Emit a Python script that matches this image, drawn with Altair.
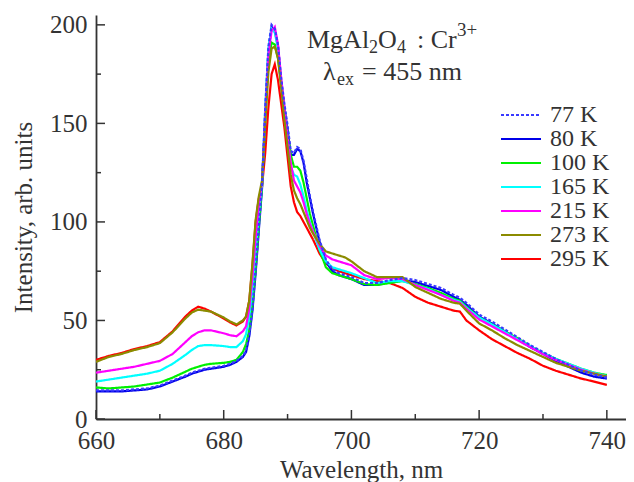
import altair as alt
import pandas as pd

# ---------------- data ----------------
WAVELENGTH = [660, 662, 664, 666, 668, 670, 672, 674, 675, 676, 677, 678,
              680, 681, 682, 683, 683.5, 684, 684.5, 685, 685.5, 686,
              686.5, 687, 687.5, 688, 688.5, 689, 689.5, 690, 690.5, 691,
              691.5, 692, 692.5, 693, 693.5, 694, 695, 696, 697, 698,
              699, 700, 702, 704, 706, 708, 710, 712, 714, 716,
              717, 718, 720, 722, 724, 726, 728, 730, 732, 734,
              736, 738, 740]

I_77K = [14.5, 14.5, 14.5, 15, 15.5, 17, 19.5, 22, 23.5, 24.5, 25.5, 26,
         27, 28, 29.5, 32, 34.5, 43, 56, 76, 98, 119,
         157, 189, 200, 198, 190, 173, 160, 149, 136, 135,
         138, 137, 131, 122, 113, 105, 91, 81, 76, 74,
         73, 72, 69, 69, 70.5, 71.5, 70.5, 68.5, 66.5, 63,
         61.5, 59, 53, 49.5, 45.5, 41.5, 37.5, 34, 30.5, 27.5,
         24.5, 22.5, 21]
I_80K = [14, 14, 14, 14.5, 15, 16.5, 19, 21.5, 23, 24, 25, 25.5,
         26.5, 27.5, 29, 31.5, 34, 42, 55, 74, 96, 117,
         155, 187, 199, 197, 189, 171, 158, 147, 134, 134,
         137, 136, 130, 120, 112, 104, 90, 80, 75, 73,
         72, 71, 68, 68, 69.5, 70.5, 69.5, 67.5, 65.5, 62,
         60.5, 58, 52, 48.5, 44.5, 40.5, 36.5, 33, 29.5, 26.5,
         23.5, 21.5, 20.5]
I_100K = [16, 15.5, 16, 16.5, 17.5, 18.5, 21, 24, 25.5, 26.5, 27.5, 28,
          28.5, 29, 30, 34, 38, 45, 58, 76, 98, 118,
          152, 182, 191, 190, 183, 170, 157, 145, 134, 128,
          128, 126, 120, 112, 104, 98, 86, 77, 74, 73,
          72, 71, 68.5, 68, 69, 70, 68.5, 66.5, 64, 61,
          60, 57, 51.5, 48, 44.5, 41, 37, 33.5, 30.5, 28,
          25.5, 23.5, 22.3]
I_165K = [19, 20, 21, 22, 23, 24.5, 28, 32.5, 35, 37, 37.5, 37.5,
          37, 36.5, 36.5, 39.5, 43, 52, 65, 85, 104, 120,
          158, 188, 198, 196, 188, 170, 155, 140, 128, 124,
          123, 119, 113, 106, 100, 95, 86, 80, 77, 76,
          75, 74, 71.5, 69, 70, 70, 68, 66, 63, 60.5,
          59.5, 56.5, 51.5, 48, 44.3, 40.5, 37, 33.5, 30.5, 28,
          25.5, 23.5, 21.8]
I_215K = [23.5, 24.5, 25.5, 26.5, 28, 29.5, 33, 39, 42, 44, 45, 45,
          43.5, 42.5, 42, 44.5, 47, 56, 72, 92, 108, 120,
          155, 185, 197, 199, 190, 173, 158, 143, 130, 121,
          118, 115, 110, 104, 99, 95, 88, 83, 81, 80,
          79, 78, 73, 71, 71.5, 71, 68, 65.5, 63, 60,
          59, 56, 50.5, 47, 43.5, 40, 36.5, 33, 30, 27.5,
          25, 23, 21.5]
I_273K = [29, 31.5, 33, 35, 36.5, 38.5, 44, 51, 54, 55.5, 55, 54.5,
          51.5, 49.5, 48, 50, 52, 60, 79, 101, 113, 121,
          150, 176, 188, 189, 183, 168, 152, 138, 124, 116,
          112, 109, 105, 101, 97, 94, 89, 85, 84, 83,
          82, 80, 75, 72, 72, 72, 67, 64, 61, 59,
          58.5, 55, 48.5, 45, 41, 37.5, 34.5, 31.5, 28.5, 26.5,
          24.5, 23, 21.5]
I_295K = [30, 32, 33.5, 35.5, 37, 39, 44.5, 52, 55, 57, 56, 54.5,
          51, 49, 47.5, 49.5, 52, 60, 78, 100, 112, 118,
          135, 158, 175, 180, 172, 160, 148, 133, 118, 110,
          105, 103, 100, 97, 94, 91, 84, 79, 76.5, 75,
          74, 73, 71, 70, 69, 66.5, 62, 59, 57, 55,
          54.5, 50, 45, 40.5, 37, 33.5, 30.5, 27, 24.5, 22.5,
          20.5, 19, 17.3]

SERIES_LABELS = ["77 K", "80 K", "100 K", "165 K", "215 K", "273 K", "295 K"]
SERIES_VALUES = [I_77K, I_80K, I_100K, I_165K, I_215K, I_273K, I_295K]
SERIES_COLORS = ["#3a3aff", "#0000e8", "#00f000", "#00ffff", "#ff00ff", "#8b8b00", "#ff0000"]
SERIES_DASHES = [[3, 2], [1, 0], [1, 0], [1, 0], [1, 0], [1, 0], [1, 0]]
DRAW_ORDER = ["295 K", "80 K", "100 K", "165 K", "215 K", "273 K", "77 K"]

X_MAJOR = [660, 680, 700, 720, 740]
X_MINOR = [670, 690, 710, 730]
Y_MAJOR = [0, 50, 100, 150, 200]
Y_MINOR = [25, 75, 125, 175]

# ---------------- build table ----------------
series = dict(zip(SERIES_LABELS, SERIES_VALUES))
rows = []
for lab in DRAW_ORDER:
    for i, (x, y) in enumerate(zip(WAVELENGTH, series[lab])):
        rows.append({"wl": x, "I": y, "T": lab, "i": i})
df = pd.DataFrame(rows)

W, H = 530, 404
FONT = "Liberation Serif"
INK = "#333333"

xscale = alt.Scale(domain=[660, 743], nice=False, zero=False)
yscale = alt.Scale(domain=[0, 205], nice=False)

AX_X = alt.Axis(values=X_MAJOR, format="d", ticks=False, labelPadding=9,
                labelFont=FONT, labelFontSize=25, labelColor=INK, labelFlush=False,
                title="Wavelength, nm", titleFont=FONT, titleFontSize=25,
                titleFontWeight="normal", titleColor=INK, titlePadding=4,
                domainColor=INK, domainWidth=1.8, grid=False)
AX_Y = alt.Axis(values=Y_MAJOR, format="d", ticks=False, labelPadding=9,
                labelFont=FONT, labelFontSize=25, labelColor=INK, labelFlush=False,
                title="Intensity, arb. units", titleFont=FONT, titleFontSize=25,
                titleFontWeight="normal", titleColor=INK, titlePadding=13,
                domainColor=INK, domainWidth=1.8, grid=False)

legend = alt.Legend(title=None, orient="none", legendX=413, legendY=88,
                    symbolType="M-4,0H4", symbolSize=100, symbolStrokeWidth=2,
                    labelFont=FONT, labelFontSize=24, labelColor=INK,
                    labelOffset=17, rowPadding=0, padding=0, labelLimit=200)

lines = alt.Chart(df).mark_line(strokeWidth=2.2, clip=True).encode(
    x=alt.X("wl:Q", scale=xscale, axis=AX_X),
    y=alt.Y("I:Q", scale=yscale, axis=AX_Y),
    color=alt.Color("T:N", scale=alt.Scale(domain=SERIES_LABELS, range=SERIES_COLORS),
                    legend=legend),
    strokeDash=alt.StrokeDash("T:N", scale=alt.Scale(domain=SERIES_LABELS, range=SERIES_DASHES),
                              legend=legend),
    order="i:Q",
)

# inward ticks (same fields as the data so the axes merge cleanly)
xmaj = alt.Chart(pd.DataFrame({"wl": X_MAJOR})).mark_rule(color=INK, strokeWidth=1.5).encode(
    x=alt.X("wl:Q", scale=xscale, axis=AX_X), y=alt.value(H), y2=alt.value(H - 9))
xmin = alt.Chart(pd.DataFrame({"wl": X_MINOR})).mark_rule(color=INK, strokeWidth=1.5).encode(
    x=alt.X("wl:Q", scale=xscale, axis=AX_X), y=alt.value(H), y2=alt.value(H - 5))
ymaj = alt.Chart(pd.DataFrame({"I": Y_MAJOR})).mark_rule(color=INK, strokeWidth=1.5).encode(
    y=alt.Y("I:Q", scale=yscale, axis=AX_Y), x=alt.value(0), x2=alt.value(9))
ymin = alt.Chart(pd.DataFrame({"I": Y_MINOR})).mark_rule(color=INK, strokeWidth=1.5).encode(
    y=alt.Y("I:Q", scale=yscale, axis=AX_Y), x=alt.value(0), x2=alt.value(5))

# annotation pieces: (text, x, y, size)
ANNOT = [("MgAl", 211, 33, 26), ("2", 273, 38, 18), ("O", 282, 33, 26), ("4", 301, 38, 18),
         (": Cr", 321, 33, 26), ("3+", 361, 21, 19),
         ("λ", 227, 65, 26), ("ex", 241, 70, 18), ("= 455 nm", 266, 65, 26)]
one = pd.DataFrame({"a": [0]})
annots = []
for txt, ax, ay, fs in ANNOT:
    annots.append(alt.Chart(one).mark_text(text=txt, font=FONT, fontSize=fs, color=INK,
                                            align="left", baseline="alphabetic").encode(
        x=alt.value(ax), y=alt.value(ay)))

chart = alt.layer(lines, xmaj, xmin, ymaj, ymin, *annots).properties(
    width=W, height=H,
    autosize=alt.AutoSizeParams(type="none"),
    padding={"left": 88, "top": 7, "right": 0, "bottom": 70},
).configure_view(stroke=None)

chart.save("out.html", embed_options={"renderer": "svg", "actions": False})
